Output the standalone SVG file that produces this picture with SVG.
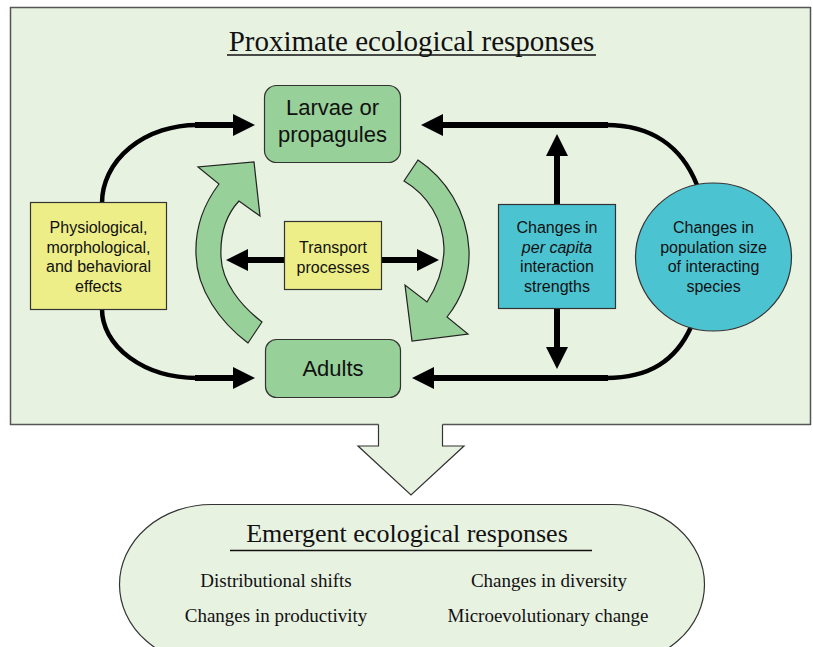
<svg xmlns="http://www.w3.org/2000/svg" width="813" height="647" viewBox="0 0 813 647">
<style>
.bg{fill:#e8f2e1;stroke:#555;stroke-width:1.5}
.node-green{fill:#97d098;stroke:#333;stroke-width:1.2}
.node-yellow{fill:#eeee88;stroke:#333;stroke-width:1.2}
.node-cyan{fill:#4cc3d1;stroke:#333;stroke-width:1.2}
.lbl{font-family:"Liberation Sans",Arial,sans-serif;fill:#111;text-anchor:middle}
.serif{font-family:"Liberation Serif","Times New Roman",serif;fill:#111;text-anchor:middle}
.curve{fill:none;stroke:#000;stroke-width:4.5}
.straight{fill:none;stroke:#000;stroke-width:6}
.garrow{fill:#97d098;stroke:#222;stroke-width:1.2;stroke-linejoin:miter}
</style>
<defs>
<marker id="head" markerUnits="userSpaceOnUse" markerWidth="22" markerHeight="22" refX="0" refY="11" orient="auto" viewBox="0 0 22 22">
<path d="M0,0 L22,11 L0,22 Z" fill="#000"/>
</marker>
</defs>

<g id="proximate-panel">
<rect class="bg" x="10.5" y="7.5" width="800" height="417"/>
<text class="serif" x="411.5" y="51" font-size="29">Proximate ecological responses</text>
<line x1="227" y1="55" x2="596" y2="55" stroke="#111" stroke-width="1.3"/>
</g>

<g id="emergent-arrow">
<polygon points="378.5,422 378.5,446 358,446 411,495 464,446 442.5,446 442.5,422" fill="#e8f2e1"/>
<polyline points="378.5,424.5 378.5,446 358,446 411,495 464,446 442.5,446 442.5,424.5" fill="none" stroke="#333" stroke-width="1.2"/>
</g>

<g id="green-cycle">
<path class="garrow" d="M219,184 C203,205 195,230 196,255 C197,290 220,322 248,343 L262,322 C240,305 222,282 221,257 C220,235 226,215 239,201 L260,216 L254,162 L198,167 Z"/>
<path class="garrow" d="M418,160 C445,178 467,210 469,250 C470,275 462,298 447,317 L468,334 L412,341 L405,285 L427,302 C438,285 444,268 444,248 C443,220 428,195 404,181 Z"/>
</g>

<g id="connectors">
<path class="curve" d="M102,203 A95,78 0 0 1 197,125"/>
<path class="straight" d="M195,125 L233,125" marker-end="url(#head)"/>
<path class="curve" d="M102,309 A95,69 0 0 0 197,378"/>
<path class="straight" d="M195,378 L233,378" marker-end="url(#head)"/>
<path class="curve" d="M697,185 C682,147 652,125 606,125"/>
<path class="straight" d="M608,125 L443,125" marker-end="url(#head)"/>
<path class="curve" d="M691,327 C676,360 650,378 606,378"/>
<path class="straight" d="M608,378 L434,378" marker-end="url(#head)"/>
<path class="straight" d="M557,204 L557,156" marker-end="url(#head)"/>
<path class="straight" d="M557,309 L557,347" marker-end="url(#head)"/>
<path class="straight" d="M284,260 L248,260" marker-end="url(#head)"/>
<path class="straight" d="M382,260 L417,260" marker-end="url(#head)"/>
</g>

<g id="larvae">
<rect class="node-green" x="264.5" y="85.5" width="136" height="77" rx="12"/>
<text class="lbl" x="332.5" y="115" font-size="22">Larvae or</text>
<text class="lbl" x="332.5" y="142" font-size="22">propagules</text>
</g>

<g id="adults">
<rect class="node-green" x="265.5" y="339.5" width="135" height="58" rx="11"/>
<text class="lbl" x="333" y="376" font-size="22">Adults</text>
</g>

<g id="physiological">
<rect class="node-yellow" x="30.5" y="202.5" width="136" height="107"/>
<text class="lbl" x="98.5" y="233" font-size="16">Physiological,</text>
<text class="lbl" x="98.5" y="252.5" font-size="16">morphological,</text>
<text class="lbl" x="98.5" y="272" font-size="16">and behavioral</text>
<text class="lbl" x="98.5" y="291.5" font-size="16">effects</text>
</g>

<g id="transport">
<rect class="node-yellow" x="284.5" y="221.5" width="97" height="68"/>
<text class="lbl" x="333" y="253" font-size="16">Transport</text>
<text class="lbl" x="333" y="273" font-size="16">processes</text>
</g>

<g id="per-capita">
<rect class="node-cyan" x="498.5" y="204.5" width="117" height="104"/>
<text class="lbl" x="557" y="233" font-size="16">Changes in</text>
<text class="lbl" x="557" y="252.5" font-size="16" font-style="italic">per capita</text>
<text class="lbl" x="557" y="272" font-size="16">interaction</text>
<text class="lbl" x="557" y="291.5" font-size="16">strengths</text>
</g>

<g id="population">
<ellipse class="node-cyan" cx="713.5" cy="257" rx="78" ry="74"/>
<text class="lbl" x="713.5" y="233" font-size="16">Changes in</text>
<text class="lbl" x="713.5" y="252.5" font-size="16">population size</text>
<text class="lbl" x="713.5" y="272" font-size="16">of interacting</text>
<text class="lbl" x="713.5" y="291.5" font-size="16">species</text>
</g>

<g id="emergent">
<rect x="119.5" y="504.5" width="585" height="160" rx="92" ry="80" fill="#e8f2e1" stroke="#333" stroke-width="1.2"/>
<text class="serif" x="407" y="542" font-size="26">Emergent ecological responses</text>
<line x1="230" y1="550.5" x2="592" y2="550.5" stroke="#111" stroke-width="1.5"/>
<text class="serif" x="276" y="587" font-size="19">Distributional shifts</text>
<text class="serif" x="549" y="587" font-size="19">Changes in diversity</text>
<text class="serif" x="276" y="622" font-size="19">Changes in productivity</text>
<text class="serif" x="548" y="622" font-size="19">Microevolutionary change</text>
</g>
</svg>
